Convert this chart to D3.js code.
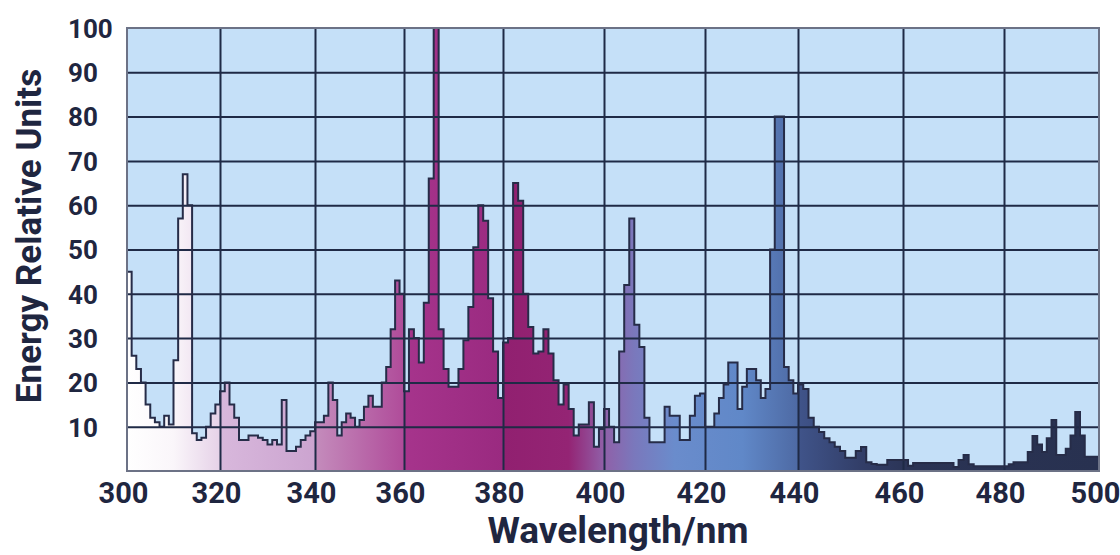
<!DOCTYPE html>
<html lang="en">
<head>
<meta charset="utf-8">
<title>Energy Relative Units</title>
<script src="https://cdn.jsdelivr.net/npm/d3@7"></script>
<style>
  body { margin: 0; background: #fff; }
  text { font-family: Roboto, "DejaVu Sans", sans-serif; font-weight: bold; fill: #1f2640; }
</style>
</head>
<body>
<svg id="chart" width="1120" height="555"></svg>
<script>
// bin starts, each bin is 1 nm wide
var wavelength = d3.range(300, 500);

// one value per nm from 300 to 499
var energy = [
  45, 26, 23, 20, 15, 12, 11, 10, 12.5, 10.5,          // 300
  25, 57, 67, 60, 8.5, 7, 7.5, 10, 13, 15,             // 310
  18, 20, 15, 12, 7, 7, 8, 8, 7.5, 7,                  // 320
  6, 7, 6, 16, 4.5, 4.5, 5.5, 7, 8, 9,                 // 330
  11, 11, 12.5, 20, 16, 8, 11, 13, 12, 10,             // 340
  11.5, 14.5, 17, 14.5, 14.5, 20, 23.5, 32, 43, 40,    // 350
  18, 32, 30, 24.5, 38, 66, 100, 32, 23, 19,           // 360
  19, 23, 29.5, 37, 50.5, 60, 56.5, 39, 27, 16.5,      // 370
  29, 30, 65, 61, 40, 32.5, 26.5, 27, 32, 26.5,        // 380
  20.5, 15, 19.5, 14, 8, 10.5, 10.5, 15.5, 5.5, 9.5,   // 390
  14, 10, 6.5, 27, 42, 57, 33, 28, 12, 6.5,            // 400
  6.5, 6.5, 14.5, 12.5, 12.5, 7, 7, 12.5, 17, 17.5,    // 410
  10, 10, 13, 16.5, 19.5, 24.5, 24.5, 14, 19, 23,      // 420
  23, 20.5, 16.5, 18.5, 50, 80, 80, 23.5, 20.5, 17.5,  // 430
  19.5, 18.5, 12, 10, 8.8, 7.4, 6.5, 5.5, 4.5, 3,      // 440
  3, 4.5, 5.4, 2, 1.6, 1.4, 1.4, 2.5, 2.5, 2.5,        // 450
  2.5, 1.2, 1.8, 1.8, 1.8, 1.8, 1.8, 1.8, 1.8, 1.8,    // 460
  0.9, 2.5, 3.6, 1.5, 1.1, 1.1, 1.1, 1.1, 1.1, 1.1,    // 470
  1.1, 1.5, 2, 2, 2, 4.3, 7.9, 6, 4.3, 7.4,            // 480
  11.5, 3.6, 3.6, 5, 8, 13.3, 8, 3.2, 3.2, 3.2         // 490
];

var xTicks = [300, 320, 340, 360, 380, 400, 420, 440, 460, 480, 500];
var yTicks = [10, 20, 30, 40, 50, 60, 70, 80, 90, 100];

var plotTop = 28, plotBottom = 471;
// the printed grid is not evenly spaced, so the scale passes through each gridline
var gridX = [127, 220, 315, 404, 503, 604, 705, 798, 903, 1004, 1099];

var x = d3.scaleLinear().domain(xTicks).range(gridX);
var y = d3.scaleLinear().domain([0, 100]).range([plotBottom, plotTop]);

var svg = d3.select("#chart");
var defs = svg.append("defs");

// colour of the fill follows the wavelength
var grad = defs.append("linearGradient")
  .attr("id", "spectrum")
  .attr("gradientUnits", "userSpaceOnUse")
  .attr("x1", x(300)).attr("x2", x(500))
  .attr("y1", 0).attr("y2", 0);
var stops = [
  [300, "#ffffff"], [310, "#faf6fa"], [319.9, "#e6d2e8"],
  [320, "#d8b8dc"], [339.9, "#cca4d0"],
  [340, "#c48cbc"], [359.9, "#b04c9a"],
  [360, "#a6348c"], [379.9, "#9a2a80"],
  [380, "#912070"], [393, "#942474"], [400, "#9060a8"],
  [406, "#7a78bc"], [414, "#6a8ccc"], [428, "#6088c8"], [439.9, "#4e6aa4"],
  [440, "#40548a"], [452, "#323e68"], [462, "#2a3354"], [500, "#283150"]
];
grad.selectAll("stop")
  .data(stops)
  .enter()
  .append("stop")
  .attr("offset", function(d) { return (x(d[0]) - x(300)) / (x(500) - x(300)); })
  .attr("stop-color", function(d) { return d[1]; });

var pts = wavelength.map(function(d, i) { return { nm: d, v: energy[i] }; });
pts.push({ nm: 500, v: energy[energy.length - 1] });

// plot background
svg.append("rect")
  .attr("x", x(300)).attr("y", y(100))
  .attr("width", x(500) - x(300))
  .attr("height", y(0) - y(100))
  .attr("fill", "#c5e0f8");

var area = d3.area()
  .x(function(d) { return x(d.nm); })
  .y0(y(0))
  .y1(function(d) { return y(d.v); })
  .curve(d3.curveStepAfter);

svg.append("path")
  .datum(pts)
  .attr("d", area)
  .attr("fill", "url(#spectrum)");

// gridlines sit over the fill
var gx = svg.append("g")
  .attr("transform", "translate(0," + plotBottom + ")")
  .call(d3.axisBottom(x).tickValues(xTicks.slice(1, -1)).tickSize(-(plotBottom - plotTop)).tickFormat(""));
var gy = svg.append("g")
  .attr("transform", "translate(" + x(300) + ",0)")
  .call(d3.axisLeft(y).tickValues(yTicks.slice(0, -1)).tickSize(-(x(500) - x(300))).tickFormat(""));
[gx, gy].forEach(function(g) {
  g.select(".domain").remove();
  g.selectAll("line").attr("stroke", "#1f2a46").attr("stroke-width", 2);
});

var line = d3.line()
  .x(function(d) { return x(d.nm); })
  .y(function(d) { return y(d.v); })
  .curve(d3.curveStepAfter);

svg.append("path")
  .datum(pts)
  .attr("d", line)
  .attr("fill", "none")
  .attr("stroke", "#262c48")
  .attr("stroke-width", 2);

// frame
svg.append("rect")
  .attr("x", x(300)).attr("y", y(100))
  .attr("width", x(500) - x(300))
  .attr("height", y(0) - y(100))
  .attr("fill", "none")
  .attr("stroke", "#6c7286")
  .attr("stroke-width", 2);

// tick labels
var xl = svg.append("g")
  .attr("transform", "translate(0," + plotBottom + ")")
  .call(d3.axisBottom(x).tickValues(xTicks).tickSize(0).tickPadding(11));
xl.select(".domain").remove();
xl.selectAll("text")
  .attr("x", -4)
  .style("font-size", "29px");

var yl = svg.append("g")
  .attr("transform", "translate(" + x(300) + ",0)")
  .call(d3.axisLeft(y).tickValues(yTicks).tickSize(0));
yl.select(".domain").remove();
yl.selectAll("text")
  .attr("text-anchor", "start")
  .attr("x", 68 - x(300))
  .attr("dy", "0.36em")
  .style("font-size", "26px");

// let the stylesheet decide font and colour of the tick labels
svg.selectAll("g").attr("font-family", null).attr("font-size", null);
svg.selectAll(".tick text").attr("fill", null);

// axis titles
svg.append("text")
  .attr("x", 618)
  .attr("y", 543)
  .attr("text-anchor", "middle")
  .style("font-size", "37px")
  .text("Wavelength/nm");

svg.append("text")
  .attr("transform", "translate(41,236) rotate(-90)")
  .attr("text-anchor", "middle")
  .style("font-size", "35px")
  .text("Energy Relative Units");
</script>
</body>
</html>
